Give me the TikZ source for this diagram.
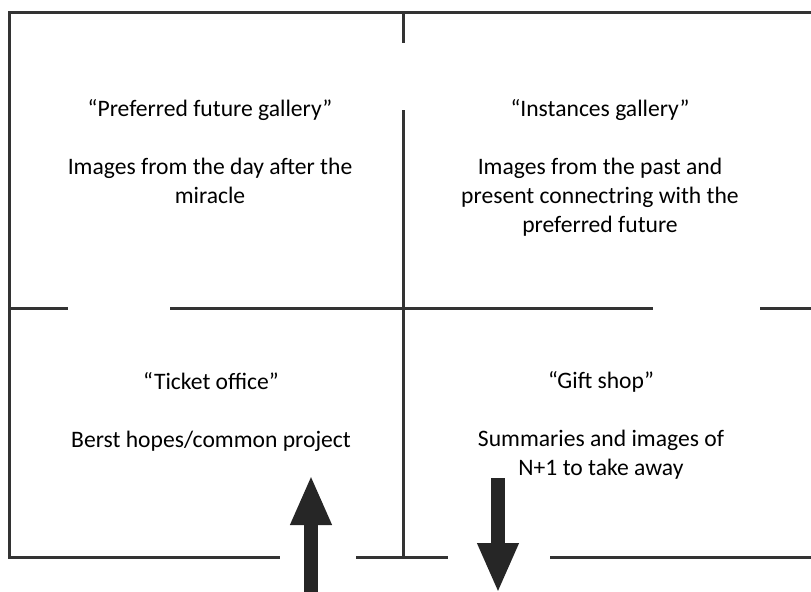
\documentclass[tikz,border=0pt]{standalone}
\usepackage{fontspec}
\setmainfont{Carlito}
\usetikzlibrary{arrows.meta}

\tikzset{
  wall/.style={line width=1.5pt,draw=black!80},
  room/.style={align=center,inner sep=0pt},
  way/.style={line width=7pt,draw=black!85,-{Triangle[width=19pt,length=25pt]}}
}

\begin{document}
\begin{tikzpicture}[x=0.5pt,y=-0.5pt,font=\fontsize{11.8}{14.4}\selectfont]
 \useasboundingbox (0,0) rectangle (811,591);
 % outer walls
 \draw[wall] (811,12) -- (9,12) -- (9,557) -- (280,557);
 \foreach \a/\b in {356/448,550/811}
   {\draw[wall] (\a,557) -- (\b,557);}
 % inner walls
 \draw[wall] (403,12) -- (403,43);
 \draw[wall] (403,110) -- (403,557);
 \foreach \a/\b in {9/68,170/653,760/811}
   {\draw[wall] (\a,308) -- (\b,308);}
 % rooms (base = last line)
 \node[room,anchor=base] (future) at (210,203)
   {“Preferred future gallery”\\[14.4pt] Images from the day after the\\ miracle};
 \node[room,anchor=base] (instances) at (600,232)
   {“Instances gallery”\\[14.4pt] Images from the past and\\ present connectring with the\\ preferred future};
 \node[room,anchor=base] (ticket) at (211,447)
   {“Ticket office”\\[14.4pt] Berst hopes/common project};
 \node[room,anchor=base] (gift) at (601,475)
   {“Gift shop”\\[14.4pt] Summaries and images of\\ N+1 to take away};
 % way in and way out
 \coordinate (entry) at (311,595);
 \coordinate (entrytip) at (311,475);
 \coordinate (exit) at (498,478);
 \coordinate (exittip) at (498,593);
 \draw[way] (entry) -- (entrytip);
 \draw[way] (exit) -- (exittip);
\end{tikzpicture}
\end{document}
